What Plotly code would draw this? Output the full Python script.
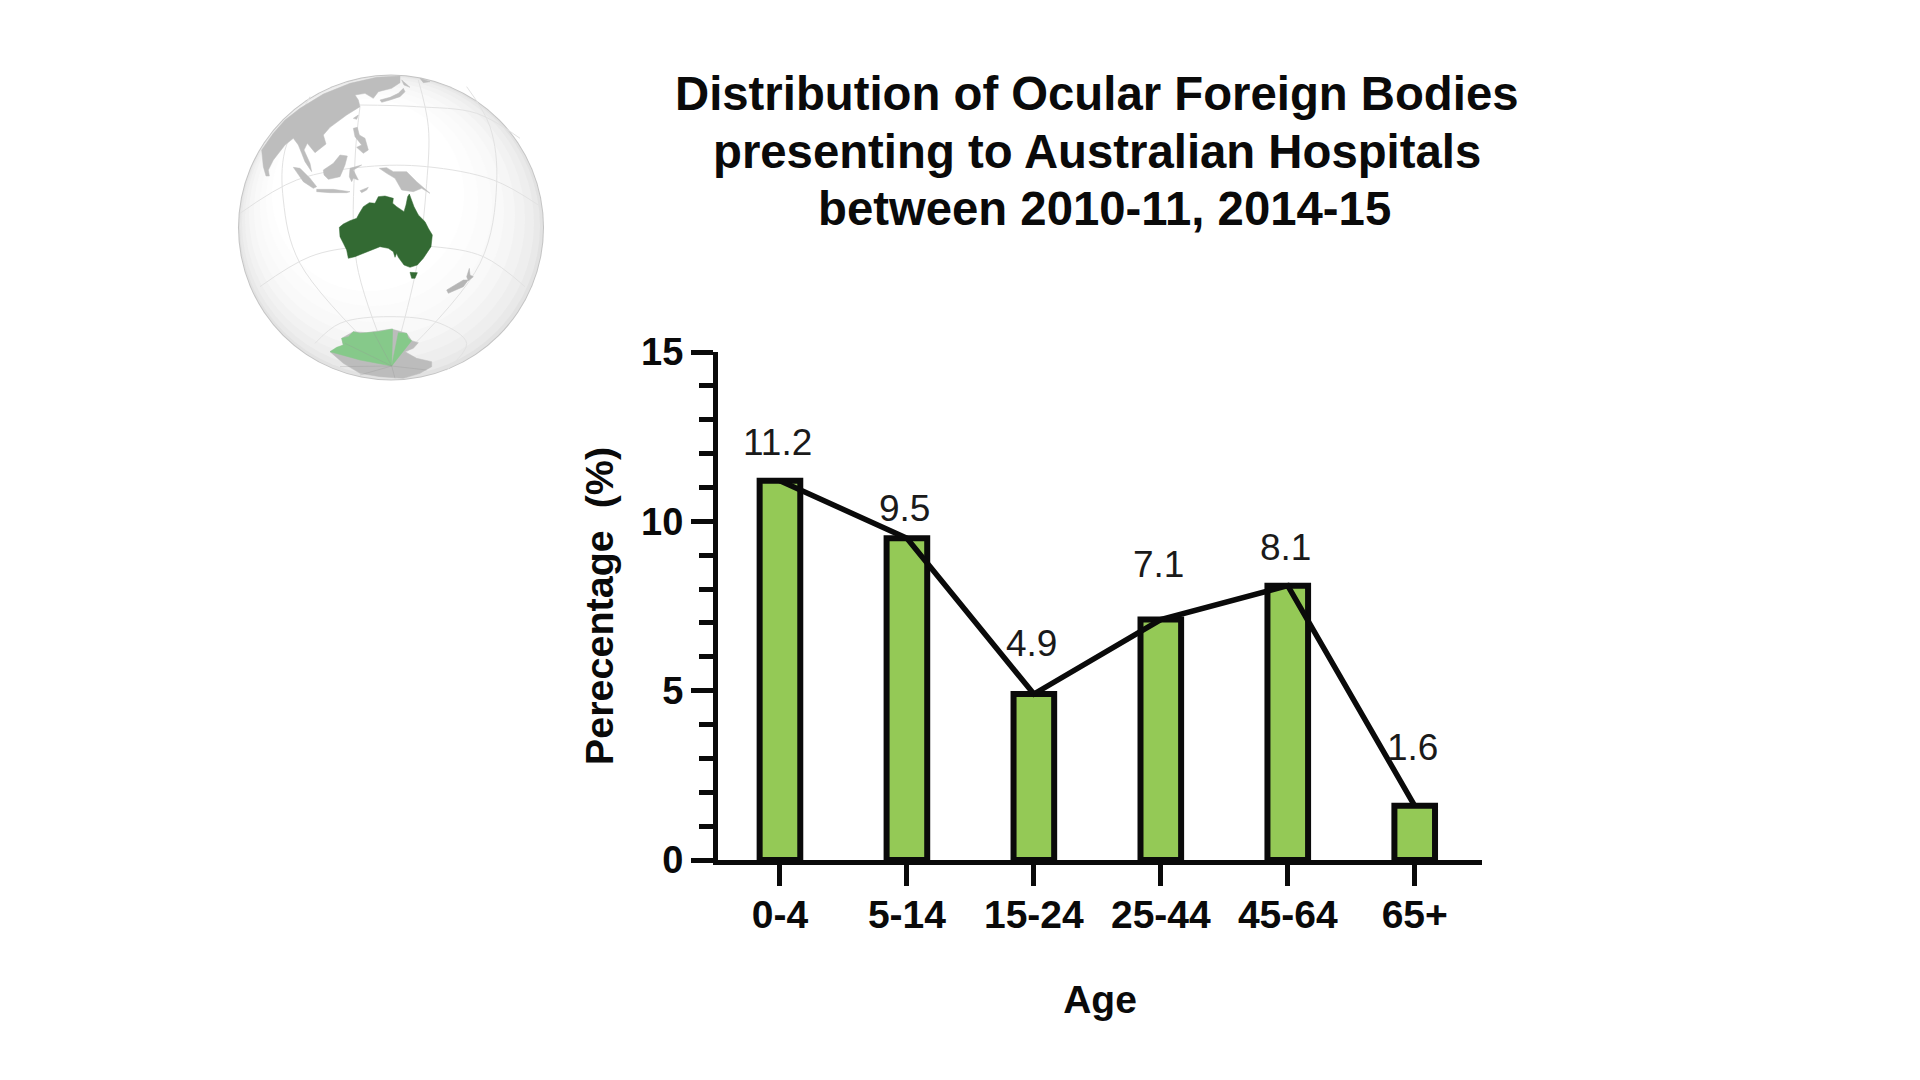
import plotly.graph_objects as go

# Dados do gráfico
age_groups = ['0-4', '5-14', '15-24', '25-44', '45-64', '65+']
percentages = [11.2, 9.5, 4.9, 7.1, 8.1, 1.6]
value_labels = ['11.2', '9.5', '4.9', '7.1', '8.1', '1.6']
label_shifts = [8, -1, 20, 25, 8, 28]  # pixels acima da posição padrão

title_lines = ['Distribution of Ocular Foreign Bodies',
               'presenting to Australian Hospitals',
               'between 2010-11, 2014-15']
title_centers = [1097, 1097, 1104]  # centro x de cada linha, em pixels
title_rows = [94, 152, 208]  # centro y de cada linha, em pixels

FONT = 'Liberation Sans'
BLACK = '#0a0a0a'
BAR_GREEN = '#94c956'

# Contornos do globo, em pixels dos recortes ampliados 3x (origem de cada recorte)
ASIA = [(450,18),(380,22),(300,40),(220,72),(150,115),(105,150),(70,190),(35,240),(40,290),(48,318),(58,318),
        (55,300),(70,270),(105,225),(130,205),(145,225),(155,250),(165,275),(185,305),(180,280),(162,240),
        (172,220),(195,248),(228,222),(220,195),(240,172),(290,135),(330,110),(325,90),(315,75),
        (345,70),(370,85),(385,65),(425,55),(450,38)]
JAPAN = [(390,90),(420,82),(445,70),(460,55),(465,65),(450,80),(420,90),(395,97)]
HOKKAIDO = [(455,30),(475,48),(480,52),(462,45)]
KAMCHATKA = [(510,25),(540,35),(520,38)]
SUMATRA = [(130,292),(150,295),(180,325),(200,350),(190,355),(160,335)]
BORNEO = [(220,300),(250,280),(270,255),(292,258),(285,285),(270,320),(235,328),(222,315)]
JAVA = [(200,358),(250,358),(300,365),(290,368),(240,368),(200,365)]
SULAWESI = [(300,295),(335,285),(310,300),(325,330),(310,325),(305,335),(298,320)]
TIMOR = [(330,362),(355,352),(350,360),(335,368)]
PHILIPPINES = [(310,175),(322,172),(328,195),(345,205),(355,240),(340,250),(320,232),(335,225),(315,200)]
TAIWAN = [(310,145),(325,135),(320,148)]
NEW_GUINEA = [(388,295),(410,293),(430,305),(470,305),(500,335),(540,370),(515,355),(490,365),(455,360),
              (435,325),(410,310)]
AUSTRALIA = [(28,232),(40,222),(60,212),(80,205),(88,190),(100,170),(118,158),(135,160),(145,140),(165,138),
             (190,145),(188,160),(200,170),(222,185),(228,165),(233,140),(238,132),(245,150),(252,170),(265,195),
             (285,215),(295,235),(307,255),(303,290),(290,310),(280,325),(262,345),(240,352),(222,345),(205,322),
             (200,310),(195,322),(190,305),(175,295),(150,290),(125,300),(100,312),(75,320),(55,325),(50,300),
             (40,280),(30,260)]
TASMANIA = [(240,367),(262,368),(255,385),(245,385)]
NZ_SOUTH = [(740,720),(790,690),(805,690),(790,710),(745,730)]
NZ_NORTH = [(800,680),(808,655),(810,675),(820,680),(805,692)]
ANTARCTICA = [(30,125),(70,105),(65,85),(100,65),(140,68),(215,57),(260,70),(275,92),(295,98),(280,115),(255,125),
              (290,145),(335,155),(335,170),(300,190),(250,205),(180,200),(120,190),(70,160)]
CLAIM_WEST = [(30,125),(50,112),(70,105),(65,85),(85,80),(100,65),(120,70),(140,68),(175,65),(218,57),(215,168),
              (120,150)]
CLAIM_EAST = [(235,68),(260,70),(265,85),(275,92),(215,168)]
POLE_LINES = [[(215,168),(160,66)], [(215,168),(75,100)], [(215,168),(60,170)], [(215,168),(120,195)],
              [(215,168),(225,205)], [(215,168),(320,180)]]

GRATICULE = [
    [(655,90),(685,230),(680,400),(650,650),(575,950)],
    [(330,140),(255,300),(250,450),(300,640),(575,950)],
    [(480,170),(465,330),(470,640),(575,950)],
    [(800,110),(870,230),(890,400),(840,640),(575,950)],
    [(120,490),(290,390),(500,350),(680,350),(880,390),(1015,465)],
    [(180,710),(330,620),(480,590),(700,590),(850,620),(975,710)],
    [(345,880),(420,820),(570,800),(720,820),(800,880),(740,960)],
    [(480,165),(650,170),(830,190),(960,265)],
]

# Sombreado do globo: (centro x, centro y, raio, cor), de fora para dentro
GLOBE_SHADES = [(391,227.5,153,'#c4c4c4'),(391,227.5,152,'#e2e2e2'),(390,226,150,'#e9e9e9'),
                (388,223,146,'#eeeeee'),(385,219,140,'#f2f2f2'),(382,215,133,'#f6f6f6'),(379,211,125,'#f9f9f9'),
                (376,206,116,'#fbfbfb'),(372,200,106,'#fdfdfd'),(368,195,96,'#ffffff')]


def from_crop(points, ox, oy):
    # Converte pontos de um recorte 3x para pixels da imagem
    return [(ox + x / 3, oy + y / 3) for x, y in points]


def add_land(fig, outline, color):
    # Um traço por polígono, para sobreposições não abrirem buracos no preenchimento
    xs = [p[0] for p in outline] + [outline[0][0]]
    ys = [p[1] for p in outline] + [outline[0][1]]
    fig.add_trace(go.Scatter(x=xs, y=ys, xaxis='x2', yaxis='y2', mode='lines', fill='toself', fillcolor=color,
                             line=dict(width=0.5, color=color), hoverinfo='skip', showlegend=False))


def add_thin_line(fig, points, color, shape='linear'):
    fig.add_trace(go.Scatter(x=[p[0] for p in points], y=[p[1] for p in points], xaxis='x2', yaxis='y2',
                             mode='lines', line=dict(width=1, color=color, shape=shape), hoverinfo='skip',
                             showlegend=False))


fig = go.Figure()

# Globo
for line_pts in GRATICULE:
    add_thin_line(fig, from_crop(line_pts, 200, 50), '#e2e2e2', 'spline')

for part in [ASIA, JAPAN, HOKKAIDO, KAMCHATKA, SUMATRA, BORNEO, JAVA, SULAWESI, TIMOR, PHILIPPINES, TAIWAN,
             NEW_GUINEA]:
    add_land(fig, from_crop(part, 250, 70), '#bdbdbd')
add_land(fig, from_crop(NZ_SOUTH, 200, 50), '#b5b5b5')
add_land(fig, from_crop(NZ_NORTH, 200, 50), '#b5b5b5')
add_land(fig, from_crop(ANTARCTICA, 320, 310), '#bcbcbc')
add_land(fig, from_crop(CLAIM_WEST, 320, 310), '#86c98a')
add_land(fig, from_crop(CLAIM_EAST, 320, 310), '#86c98a')
for line_pts in POLE_LINES:
    add_thin_line(fig, from_crop(line_pts, 320, 310), 'rgba(150,150,150,0.3)')
add_land(fig, from_crop(AUSTRALIA, 330, 150), '#336a33')
add_land(fig, from_crop(TASMANIA, 330, 150), '#336a33')

# Barras e linha
fig.add_trace(go.Bar(x=age_groups, y=percentages, width=0.32, marker=dict(color=BAR_GREEN,
                     line=dict(color=BLACK, width=6)), showlegend=False))
fig.add_trace(go.Scatter(x=age_groups, y=percentages, mode='lines', line=dict(color=BLACK, width=5.5),
                         showlegend=False))

for group, value, label, shift in zip(age_groups, percentages, value_labels, label_shifts):
    fig.add_annotation(x=group, y=value, text=label, showarrow=False, yanchor='bottom', yshift=8 + shift, xshift=-2,
                       font=dict(family=FONT, size=37, color='#1a1a1a'))

for line, cx, cy in zip(title_lines, title_centers, title_rows):
    fig.add_annotation(xref='paper', yref='paper', x=cx / 1920, y=1 - cy / 1080, text=f'<b>{line}</b>',
                       showarrow=False, xanchor='center', yanchor='middle',
                       font=dict(family=FONT, size=47.3, color=BLACK))

shapes = []
for cx, cy, r, color in GLOBE_SHADES:
    shapes.append(dict(type='circle', xref='x2', yref='y2', x0=cx - r, x1=cx + r, y0=cy - r, y1=cy + r,
                       fillcolor=color, line=dict(width=0), layer='below'))

fig.update_layout(
    width=1920, height=1080,
    margin=dict(l=0, r=0, t=0, b=0, autoexpand=False),
    paper_bgcolor='white', plot_bgcolor='rgba(0,0,0,0)',
    shapes=shapes,
    font=dict(family=FONT, color=BLACK),
    xaxis=dict(domain=[718 / 1920, 1482 / 1920], type='category', range=[-0.488, 5.53],
               showgrid=False, zeroline=False, showline=True, linecolor=BLACK, linewidth=5,
               ticks='outside', ticklen=21, tickwidth=5, tickcolor=BLACK,
               tickfont=dict(family=FONT, size=39, color=BLACK, weight=700), ticklabelstandoff=-5,
               title=dict(text='<b>Age</b>', standoff=52, font=dict(family=FONT, size=39, color=BLACK))),
    yaxis=dict(domain=[1 - 860 / 1080, 1 - 352 / 1080], range=[0, 15], tick0=0, dtick=5,
               showgrid=False, zeroline=False, showline=True, linecolor=BLACK, linewidth=5,
               ticks='outside', ticklen=22, tickwidth=5, tickcolor=BLACK,
               tickfont=dict(family=FONT, size=38, color=BLACK, weight=700), ticklabelstandoff=0,
               minor=dict(dtick=1, ticks='outside', ticklen=14, tickwidth=5, tickcolor=BLACK, showgrid=False),
               title=dict(text='<b>Perecentage  (%)</b>', standoff=17, font=dict(family=FONT, size=39.5, color=BLACK))),
    xaxis2=dict(domain=[0, 1], range=[0, 1920], visible=False, fixedrange=True),
    yaxis2=dict(domain=[0, 1], range=[1080, 0], visible=False, fixedrange=True, anchor='x2'),
)

fig.write_html('out.html', config={'displayModeBar': False}, post_script="document.body.style.margin='0';")
